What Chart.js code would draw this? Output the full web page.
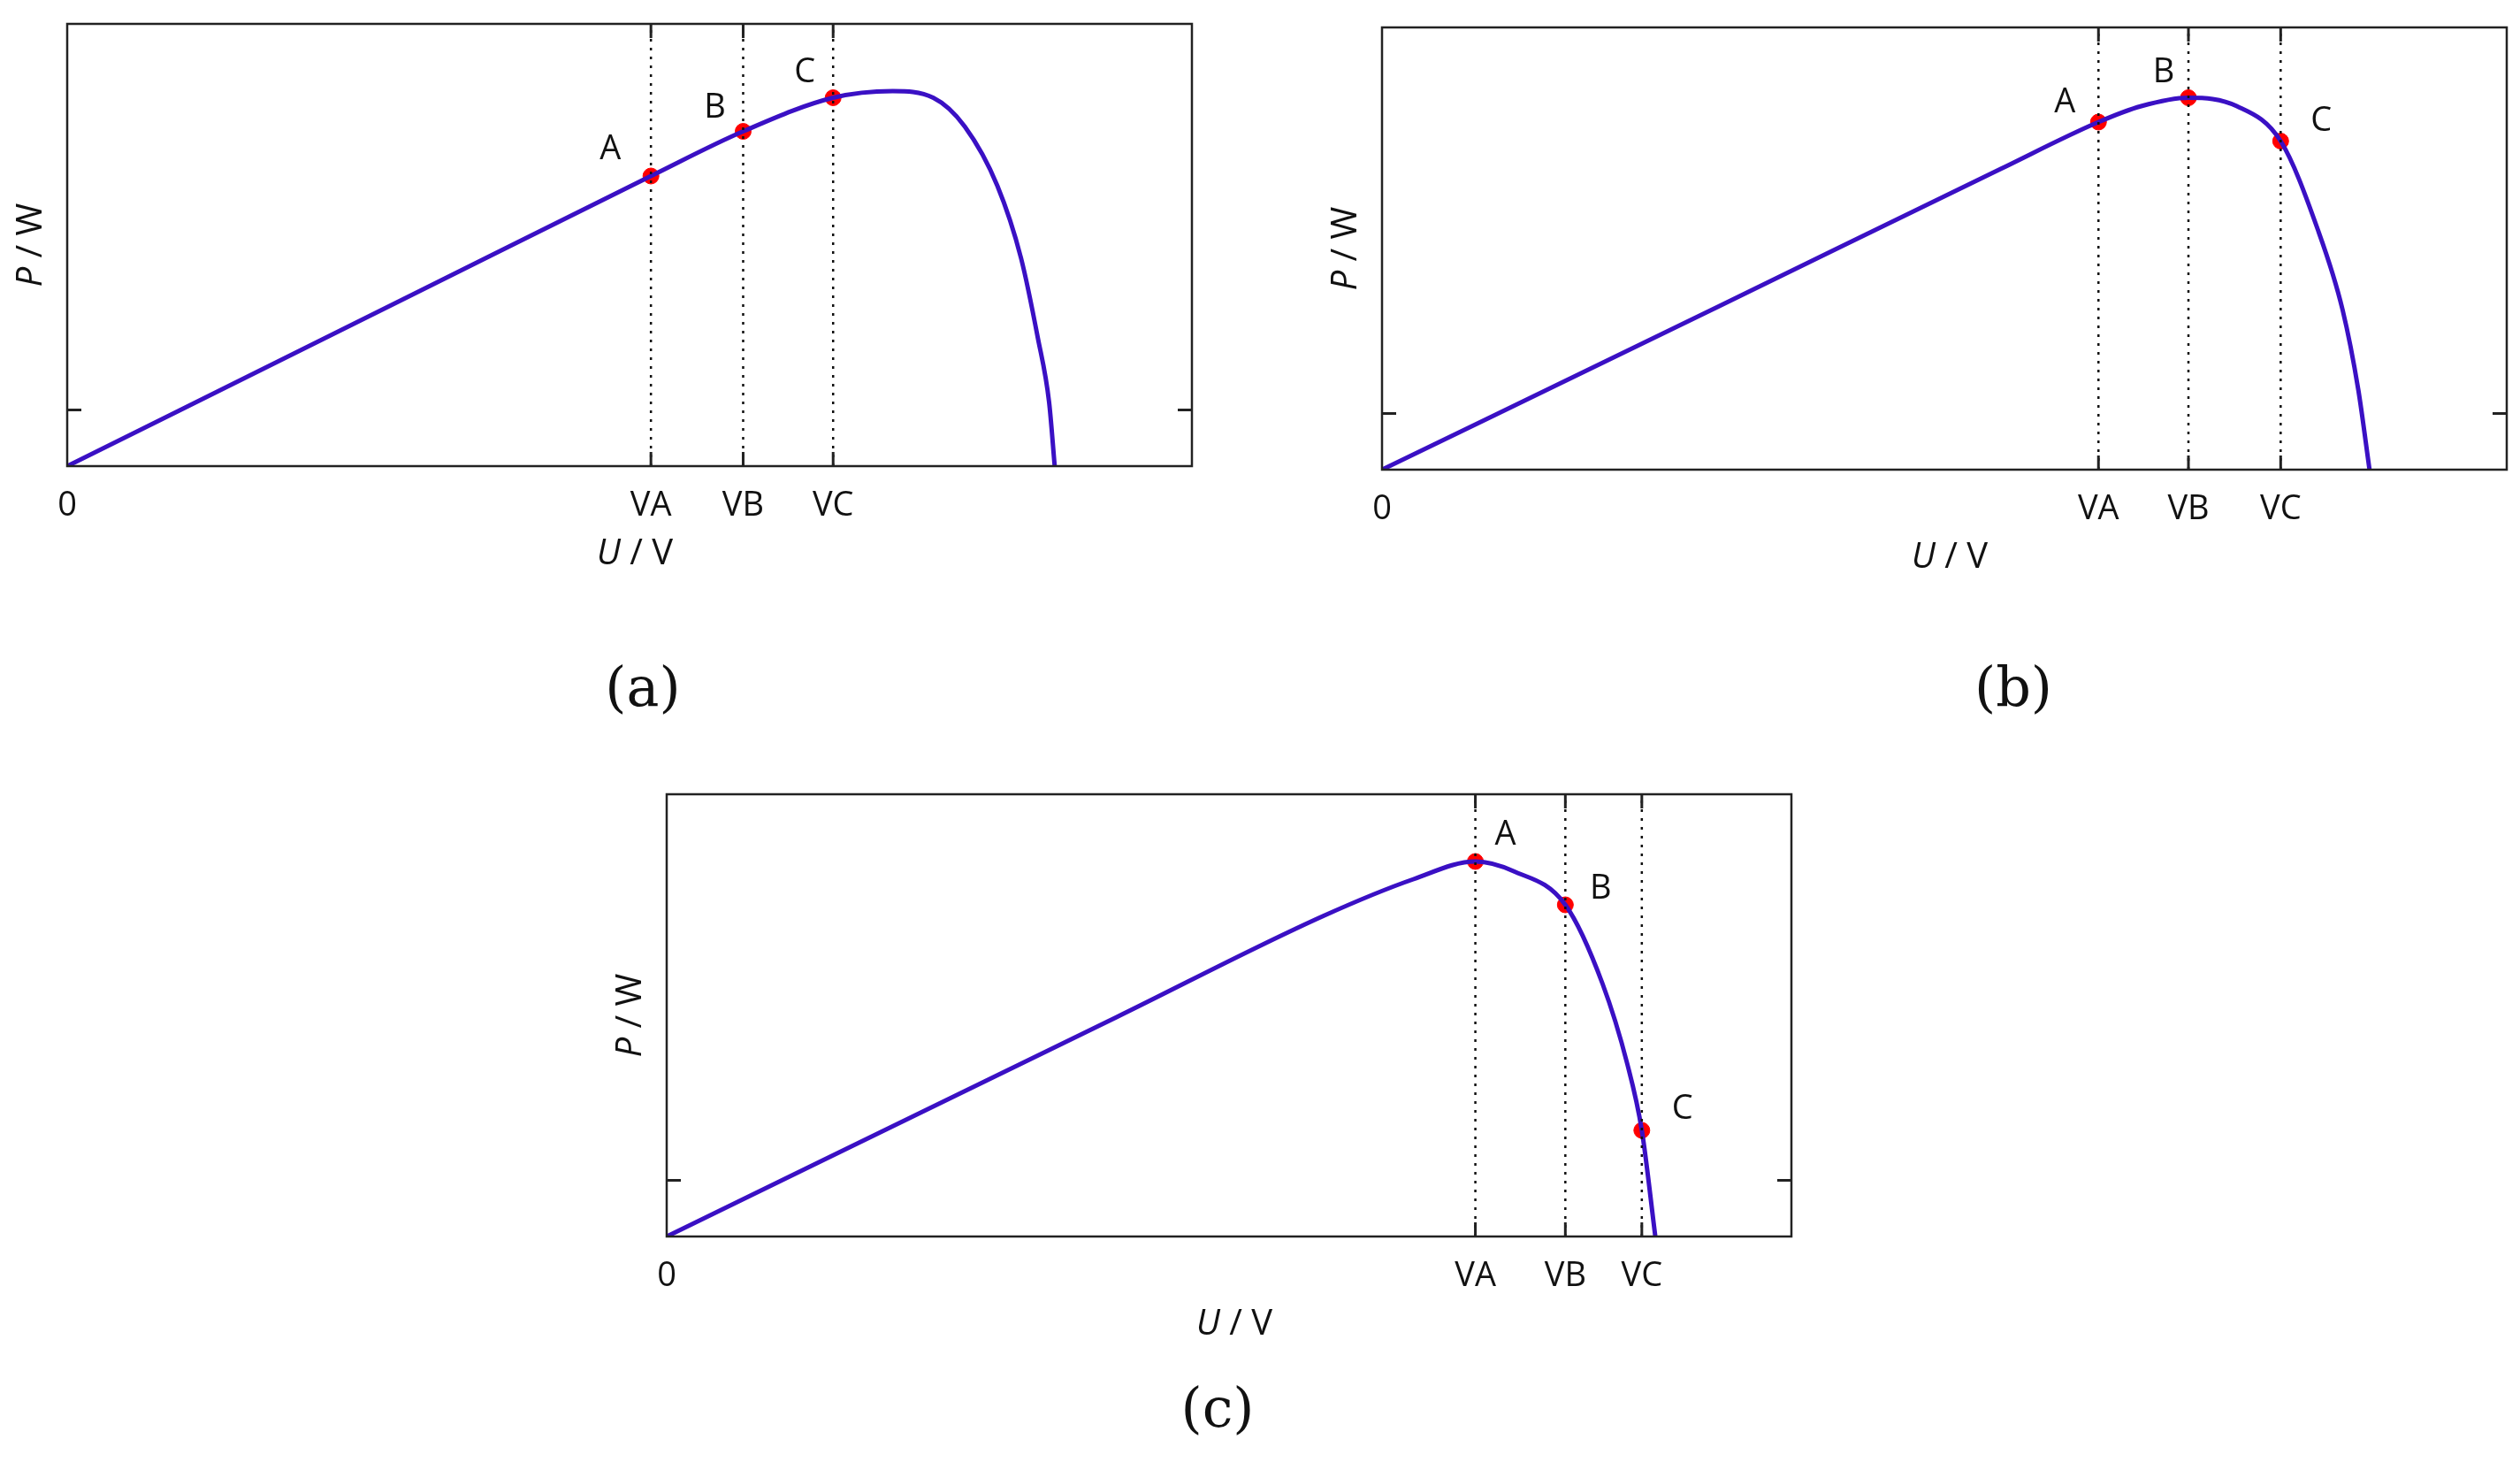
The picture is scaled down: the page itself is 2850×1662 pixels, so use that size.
<!DOCTYPE html>
<html lang="en">
<head>
<meta charset="UTF-8">
<title>P-U curves</title>
<script src="https://cdn.jsdelivr.net/npm/chart.js@4.4.0/dist/chart.umd.min.js"></script>
<style>
    body { margin: 0; background: #fff; width: 2850px; height: 1662px; position: relative; overflow: hidden; }
    .panel { position: absolute; }
    .cap { position: absolute; font-family: "DejaVu Serif", "Liberation Serif", serif; font-size: 62px; color: #111; transform: translateX(-50%); }
</style>
</head>
<body>
<div class="panel" id="pa" style="left:0px;top:0px;width:1360px;height:680px"><canvas id="ca"></canvas></div>
<div class="panel" id="pb" style="left:1487px;top:4px;width:1360px;height:680px"><canvas id="cb"></canvas></div>
<div class="panel" id="pc" style="left:678px;top:871px;width:1360px;height:680px"><canvas id="cc"></canvas></div>
<div class="cap" style="left:727px;top:740px">(a)</div>
<div class="cap" style="left:2277px;top:740px">(b)</div>
<div class="cap" style="left:1377px;top:1555px">(c)</div>
<script>
// curve samples, axis units 0..100 across each plot box
const uA = [0, 30, 51.9, 60.1, 68.1, 73.4, 77, 79.8, 82.7, 84.8, 86.3, 87.3, 87.8];
const pA = [0, 37.9, 65.6, 75.7, 83.3, 84.8, 83.3, 76.8, 63.4, 47.1, 29, 14.5, 0];
const vA = [51.9, 60.1, 68.1];
const dotA = [65.6, 75.7, 83.3];

const uB = [0, 30, 55, 63.7, 67.5, 71.7, 76, 79.9, 83.2, 85.4, 86.8, 87.8];
const pB = [0, 37, 68, 78.6, 82.2, 84.1, 82.2, 74.3, 54.3, 36.2, 18.1, 0];
const vB = [63.7, 71.7, 79.9];
const dotB = [78.6, 84.1, 74.3];

const uC = [0, 40, 58.4, 66.4, 71.9, 75.3, 79.9, 83.2, 85.4, 86.7, 87.9];
const pC = [0, 49.6, 72.5, 80.8, 84.8, 82.6, 75.0, 57.2, 39.1, 24.0, 0];
const vC = [71.9, 79.9, 86.7];
const dotC = [84.8, 75.0, 24.0];

const yTick = 12.7;
const tickNames = ['0', 'VA', 'VB', 'VC'];
const pointNames = ['A', 'B', 'C'];

const labelOffsets = {
    a: [[-46, -30], [-32, -26], [-32, -28]],
    b: [[-38, -22], [-28, -28], [46, -22]],
    c: [[34, -30], [40, -18], [46, -24]]
};

const FONT = '"Open Sans", "DejaVu Sans", sans-serif';

const decor = {
    id: 'decor',
    afterDatasetsDraw(chart, args, opts) {
        const c = chart.ctx, a = chart.chartArea;
        const xs = chart.scales.x, ys = chart.scales.y;
        c.save();
        c.strokeStyle = '#222';
        c.lineWidth = 2.5;
        c.strokeRect(a.left, a.top, a.right - a.left, a.bottom - a.top);
        c.lineWidth = 3;
        opts.v.forEach(v => {
            const x = xs.getPixelForValue(v);
            c.beginPath();
            c.moveTo(x, a.bottom); c.lineTo(x, a.bottom - 16);
            c.moveTo(x, a.top); c.lineTo(x, a.top + 16);
            c.stroke();
        });
        const yt = ys.getPixelForValue(yTick);
        c.beginPath();
        c.moveTo(a.left, yt); c.lineTo(a.left + 16, yt);
        c.moveTo(a.right, yt); c.lineTo(a.right - 16, yt);
        c.stroke();

        // point labels
        c.fillStyle = '#111';
        c.font = '38px ' + FONT;
        c.textAlign = 'center';
        c.textBaseline = 'middle';
        opts.v.forEach((v, i) => {
            const o = opts.off[i];
            c.fillText(pointNames[i], xs.getPixelForValue(v) + o[0], ys.getPixelForValue(opts.d[i]) + o[1]);
        });

        // axis titles
        const drawTitle = (x, y, rot) => {
            c.save();
            c.translate(x, y);
            c.rotate(rot);
            c.textAlign = 'left';
            c.font = 'italic 40px ' + FONT;
            const w1 = c.measureText(opts.t[0]).width;
            c.font = '40px ' + FONT;
            const w2 = c.measureText(opts.t[1]).width;
            let sx = -(w1 + w2) / 2;
            c.font = 'italic 40px ' + FONT;
            c.fillText(opts.t[0], sx, 0);
            c.font = '40px ' + FONT;
            c.fillText(opts.t[1], sx + w1, 0);
            c.restore();
        };
        opts.t = ['U', ' / V'];
        drawTitle((a.left + a.right) / 2 + 6, a.bottom + 100, 0);
        opts.t = ['P', ' / W'];
        drawTitle(a.left - 40, (a.top + a.bottom) / 2, -Math.PI / 2);
        c.restore();
    }
};

function makeChart(id, u, p, v, d, off, leftW) {
    const curve = u.map((x, i) => ({ x: x, y: p[i] }));
    const datasets = v.map(x => ({
        data: [{ x: x, y: 0 }, { x: x, y: 100 }],
        borderColor: '#111', borderWidth: 2.5, borderDash: [3, 7],
        pointRadius: 0, showLine: true
    }));
    datasets.push({
        data: curve, borderColor: '#3a10c4', borderWidth: 5,
        pointRadius: 0, showLine: true, cubicInterpolationMode: 'monotone'
    });
    datasets.push({
        data: v.map((x, i) => ({ x: x, y: d[i] })),
        backgroundColor: '#ff0000', borderColor: '#ff0000',
        pointRadius: 9, showLine: false
    });
    new Chart(document.getElementById(id), {
        type: 'scatter',
        data: { datasets: datasets },
        options: {
            responsive: true, maintainAspectRatio: false, animation: false,
            layout: { padding: { top: 27, right: 12 } },
            plugins: { legend: { display: false }, tooltip: { enabled: false },
                decor: { v: v, d: d, off: off } },
            scales: {
                x: {
                    min: 0, max: 100,
                    afterBuildTicks: s => { s.ticks = [0].concat(v).map(t => ({ value: t })); },
                    afterFit: s => { s.height = 153; },
                    ticks: { callback: (val, i) => tickNames[i], font: { size: 38, family: FONT },
                        color: '#111', padding: 14, maxRotation: 0, autoSkip: false },
                    grid: { display: false }, border: { display: false }
                },
                y: {
                    min: 0, max: 100,
                    afterFit: s => { s.width = leftW; },
                    ticks: { display: false },
                    grid: { display: false }, border: { display: false }
                }
            }
        },
        plugins: [decor]
    });
}

makeChart('ca', uA, pA, vA, dotA, labelOffsets.a, 76);
makeChart('cb', uB, pB, vB, dotB, labelOffsets.b, 76);
makeChart('cc', uC, pC, vC, dotC, labelOffsets.c, 76);
</script>
</body>
</html>
